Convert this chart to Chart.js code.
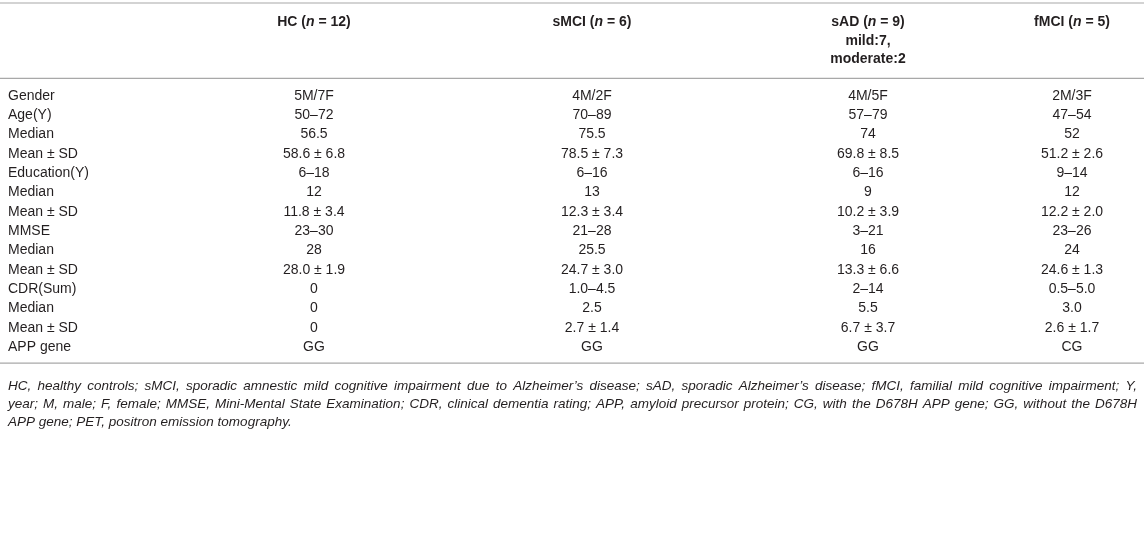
<!DOCTYPE html>
<html>
<head>
<meta charset="utf-8">
<script src="https://cdn.jsdelivr.net/npm/chart.js@4.4.1/dist/chart.umd.min.js"></script>
<style>
html, body { margin: 0; padding: 0; background: #fff; }
#wrap { width: 1144px; height: 541px; }
</style>
</head>
<body>
<div id="wrap"><canvas id="table" width="1144" height="541"></canvas></div>
<script>
/** Table content **/

const groups = ['HC', 'sMCI', 'sAD', 'fMCI'];
const groupN = [12, 6, 9, 5];
const sadSeverity = ['mild:7,', 'moderate:2'];

const rowLabels = ['Gender', 'Age(Y)', 'Median', 'Mean \u00b1 SD', 'Education(Y)', 'Median', 'Mean \u00b1 SD',
    'MMSE', 'Median', 'Mean \u00b1 SD', 'CDR(Sum)', 'Median', 'Mean \u00b1 SD', 'APP gene'];
const hcValues = ['5M/7F', '50\u201372', '56.5', '58.6 \u00b1 6.8', '6\u201318', '12', '11.8 \u00b1 3.4',
    '23\u201330', '28', '28.0 \u00b1 1.9', '0', '0', '0', 'GG'];
const smciValues = ['4M/2F', '70\u201389', '75.5', '78.5 \u00b1 7.3', '6\u201316', '13', '12.3 \u00b1 3.4',
    '21\u201328', '25.5', '24.7 \u00b1 3.0', '1.0\u20134.5', '2.5', '2.7 \u00b1 1.4', 'GG'];
const sadValues = ['4M/5F', '57\u201379', '74', '69.8 \u00b1 8.5', '6\u201316', '9', '10.2 \u00b1 3.9',
    '3\u201321', '16', '13.3 \u00b1 6.6', '2\u201314', '5.5', '6.7 \u00b1 3.7', 'GG'];
const fmciValues = ['2M/3F', '47\u201354', '52', '51.2 \u00b1 2.6', '9\u201314', '12', '12.2 \u00b1 2.0',
    '23\u201326', '24', '24.6 \u00b1 1.3', '0.5\u20135.0', '3.0', '2.6 \u00b1 1.7', 'CG'];

const footnoteLines = [
    'HC, healthy controls; sMCI, sporadic amnestic mild cognitive impairment due to Alzheimer\u2019s disease; sAD, sporadic Alzheimer\u2019s disease; fMCI, familial mild cognitive impairment; Y,',
    'year; M, male; F, female; MMSE, Mini-Mental State Examination; CDR, clinical dementia rating; APP, amyloid precursor protein; CG, with the D678H APP gene; GG, without the D678H',
    'APP gene; PET, positron emission tomography.'
];

/** Layout and styles **/

const colX = [8, 314, 592, 868, 1072];   // left edge of label column, then column centres
const textColor = '#231f20';
const ruleColor = '#a8a8a8';
const family = '"Liberation Sans", Arial, Helvetica, sans-serif';
const cellFont = '14px ' + family;
const headFont = 'bold 14px ' + family;
const headItalic = 'italic bold 14px ' + family;
const noteFont = 'italic 13.5px ' + family;

/** Helpers **/

// draw a run of [text, font] pieces centred on x
function draw_runs(ctx, runs, x, y) {
    let total = 0;
    runs.forEach(function(r) { ctx.font = r[1]; total += ctx.measureText(r[0]).width; });
    let cx = x - total / 2;
    ctx.textAlign = 'left';
    runs.forEach(function(r) {
        ctx.font = r[1];
        ctx.fillText(r[0], cx, y);
        cx += ctx.measureText(r[0]).width;
    });
}

// justified line from x0 to x1
function draw_justified(ctx, text, x0, x1, y) {
    const words = text.split(' ');
    let w = 0;
    words.forEach(function(word) { w += ctx.measureText(word).width; });
    const gap = (x1 - x0 - w) / (words.length - 1);
    let cx = x0;
    words.forEach(function(word) {
        ctx.fillText(word, cx, y);
        cx += ctx.measureText(word).width + gap;
    });
}

const tablePlugin = {
    id: 'tableText',
    afterDatasetsDraw(chart) {
        const ctx = chart.ctx;
        const yScale = chart.scales.y;
        ctx.save();

        /* Rules */
        ctx.strokeStyle = ruleColor;
        ctx.lineWidth = 1.2;
        const rule = function(y) {
            ctx.beginPath();
            ctx.moveTo(0, y);
            ctx.lineTo(chart.width, y);
            ctx.stroke();
        };
        rule(3);
        rule(yScale.getPixelForValue(-0.5) - 8);
        rule(yScale.getPixelForValue(rowLabels.length - 0.5) + 6.5);

        /* Body cells, one dataset per column */
        ctx.fillStyle = textColor;
        ctx.textBaseline = 'middle';
        ctx.font = cellFont;
        chart.data.datasets.forEach(function(ds, di) {
            const meta = chart.getDatasetMeta(di);
            ctx.textAlign = di === 0 ? 'left' : 'center';
            meta.data.forEach(function(pt, i) {
                ctx.fillText(ds.cells[i], pt.x, pt.y);
            });
        });

        /* Column headers */
        groups.forEach(function(g, gi) {
            const x = chart.getDatasetMeta(gi + 1).data[0].x;
            draw_runs(ctx, [[g + ' (', headFont], ['n', headItalic], [' = ' + groupN[gi] + ')', headFont]], x, 22);
            if (g === 'sAD') {
                sadSeverity.forEach(function(s, si) {
                    draw_runs(ctx, [[s, headFont]], x, 41 + si * 18.5);
                });
            }
        });

        /* Footnote */
        ctx.font = noteFont;
        ctx.textAlign = 'left';
        footnoteLines.forEach(function(line, li) {
            const y = 386 + li * 18;
            if (li < footnoteLines.length - 1) {
                draw_justified(ctx, line, 8, 1137, y);
            } else {
                ctx.fillText(line, 8, y);
            }
        });
        ctx.restore();
    }
};

/** Chart **/

const columns = [rowLabels, hcValues, smciValues, sadValues, fmciValues];

new Chart(document.getElementById('table'), {
    type: 'scatter',
    data: {
        datasets: columns.map(function(col, ci) {
            return {
                label: ci === 0 ? 'Variable' : groups[ci - 1],
                cells: col,
                data: col.map(function(v, i) { return { x: colX[ci], y: i }; }),
                pointRadius: 0,
                pointHoverRadius: 0
            };
        })
    },
    options: {
        responsive: false,
        animation: false,
        events: [],
        layout: { padding: { left: 0, right: 0, top: 86.35, bottom: 184.35 } },
        plugins: { legend: { display: false }, tooltip: { enabled: false } },
        scales: {
            x: { type: 'linear', min: 0, max: 1144, display: false },
            y: { type: 'linear', min: -0.5, max: rowLabels.length - 0.5, reverse: true, display: false }
        }
    },
    plugins: [tablePlugin]
});
</script>
</body>
</html>
